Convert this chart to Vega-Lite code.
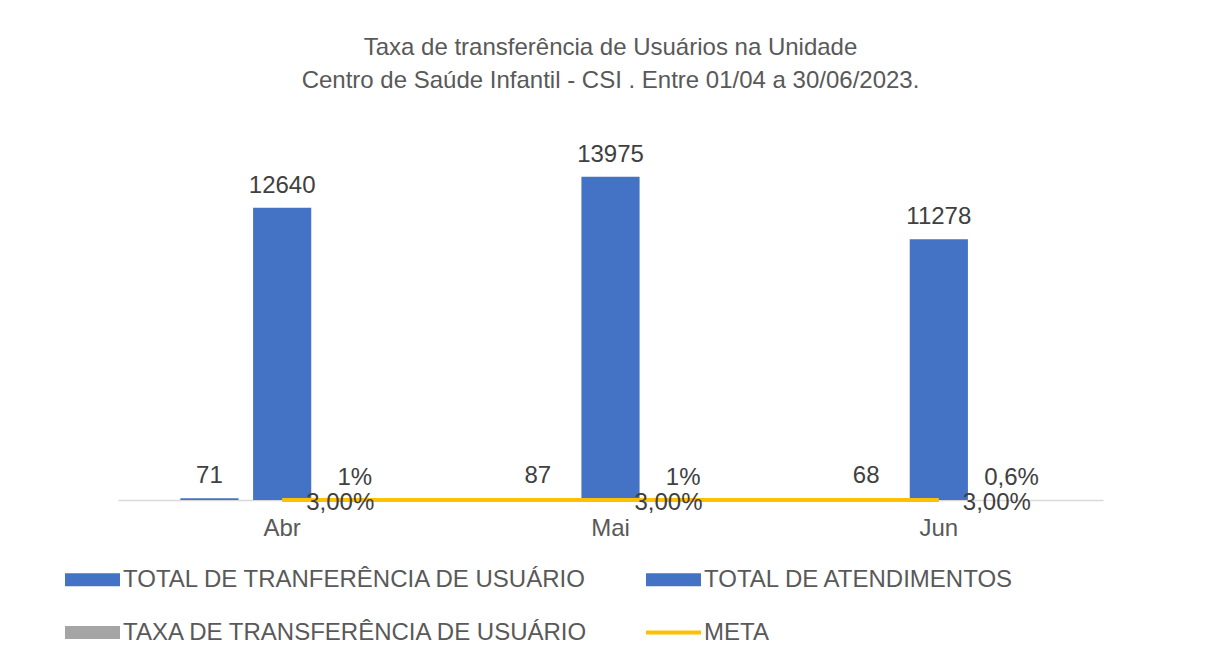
{
  "$schema": "https://vega.github.io/schema/vega-lite/v6.json",
  "autosize": {"type": "none"},
  "width": 985,
  "height": 370,
  "padding": {"left": 118, "top": 130, "right": 102, "bottom": 168},
  "background": "white",
  "title": {
    "text": ["Taxa de transferência de Usuários na Unidade", "Centro de Saúde Infantil - CSI . Entre 01/04 a 30/06/2023."],
    "font": "Liberation Sans",
    "fontSize": 24,
    "fontWeight": "normal",
    "color": "#595959",
    "lineHeight": 33,
    "offset": 37,
    "anchor": "middle"
  },
  "config": {
    "view": {"stroke": null},
    "font": "Liberation Sans"
  },
  "data": {
    "values": [
      {"mes": "Abr", "serie": "TOTAL DE TRANFERÊNCIA DE USUÁRIO", "valor": 71, "rotulo": "71"},
      {"mes": "Abr", "serie": "TOTAL DE ATENDIMENTOS", "valor": 12640, "rotulo": "12640"},
      {"mes": "Abr", "serie": "TAXA DE TRANSFERÊNCIA DE USUÁRIO", "valor": 0.01, "rotulo": "1%"},
      {"mes": "Abr", "serie": "META", "valor": 0.03, "rotulo": "3,00%"},
      {"mes": "Mai", "serie": "TOTAL DE TRANFERÊNCIA DE USUÁRIO", "valor": 87, "rotulo": "87"},
      {"mes": "Mai", "serie": "TOTAL DE ATENDIMENTOS", "valor": 13975, "rotulo": "13975"},
      {"mes": "Mai", "serie": "TAXA DE TRANSFERÊNCIA DE USUÁRIO", "valor": 0.01, "rotulo": "1%"},
      {"mes": "Mai", "serie": "META", "valor": 0.03, "rotulo": "3,00%"},
      {"mes": "Jun", "serie": "TOTAL DE TRANFERÊNCIA DE USUÁRIO", "valor": 68, "rotulo": "68"},
      {"mes": "Jun", "serie": "TOTAL DE ATENDIMENTOS", "valor": 11278, "rotulo": "11278"},
      {"mes": "Jun", "serie": "TAXA DE TRANSFERÊNCIA DE USUÁRIO", "valor": 0.006, "rotulo": "0,6%"},
      {"mes": "Jun", "serie": "META", "valor": 0.03, "rotulo": "3,00%"}
    ]
  },
  "encoding": {
    "x": {
      "field": "mes",
      "type": "nominal",
      "sort": ["Abr", "Mai", "Jun"],
      "scale": {"paddingInner": 0.38, "paddingOuter": 0.19},
      "axis": {
        "title": null,
        "ticks": false,
        "domainColor": "#D9D9D9",
        "domainWidth": 1.5,
        "labelAngle": 0,
        "labelFont": "Liberation Sans",
        "labelFontSize": 24,
        "labelColor": "#595959",
        "labelPadding": 16,
        "grid": false
      }
    },
    "y": {
      "field": "valor",
      "type": "quantitative",
      "scale": {"domain": [0, 16000], "nice": false},
      "axis": null
    }
  },
  "layer": [
    {
      "transform": [{"filter": "datum.serie !== 'META'"}],
      "mark": {"type": "bar"},
      "encoding": {
        "xOffset": {
          "field": "serie",
          "type": "nominal",
          "sort": ["TOTAL DE TRANFERÊNCIA DE USUÁRIO", "TOTAL DE ATENDIMENTOS", "TAXA DE TRANSFERÊNCIA DE USUÁRIO"],
          "scale": {"paddingInner": 0.2, "paddingOuter": 0}
        },
        "color": {
          "field": "serie",
          "type": "nominal",
          "scale": {
            "domain": ["TOTAL DE TRANFERÊNCIA DE USUÁRIO", "TOTAL DE ATENDIMENTOS", "TAXA DE TRANSFERÊNCIA DE USUÁRIO", "META"],
            "range": ["#4472C4", "#4472C4", "#A5A5A5", "#FFC000"]
          },
          "legend": {
            "title": null,
            "orient": "none",
            "direction": "horizontal",
            "legendX": -53,
            "legendY": 422,
            "columns": 2,
            "columnPadding": 56,
            "rowPadding": 13,
            "symbolSize": 3025,
            "labelFont": "Liberation Sans",
            "labelFontSize": 24,
            "labelColor": "#595959",
            "labelOffset": 3,
            "labelLimit": 0,
            "encode": {
              "symbols": {
                "update": {
                  "shape": {"signal": "datum.value === 'META' ? 'M-1,-0.07L1,-0.07L1,0.07L-1,0.07Z' : 'M-1,-0.235L1,-0.235L1,0.235L-1,0.235Z'"},
                  "fill": {"scale": "color", "field": "value"},
                  "stroke": {"value": "transparent"},
                  "strokeWidth": {"value": 0},
                  "opacity": {"value": 1}
                }
              }
            }
          }
        }
      }
    },
    {
      "transform": [{"filter": "datum.serie !== 'META'"}],
      "mark": {"type": "text", "baseline": "alphabetic", "dy": -15, "font": "Liberation Sans", "fontSize": 24, "color": "#404040"},
      "encoding": {
        "xOffset": {
          "field": "serie",
          "type": "nominal",
          "sort": ["TOTAL DE TRANFERÊNCIA DE USUÁRIO", "TOTAL DE ATENDIMENTOS", "TAXA DE TRANSFERÊNCIA DE USUÁRIO"],
          "scale": {"paddingInner": 0.2, "paddingOuter": 0}
        },
        "text": {"field": "rotulo"}
      }
    },
    {
      "transform": [{"filter": "datum.serie === 'META'"}],
      "mark": {"type": "line", "strokeWidth": 4},
      "encoding": {
        "color": {"field": "serie", "type": "nominal"}
      }
    },
    {
      "transform": [{"filter": "datum.serie === 'META'"}],
      "mark": {"type": "text", "align": "left", "baseline": "alphabetic", "dx": 24, "dy": 10, "font": "Liberation Sans", "fontSize": 24, "color": "#404040"},
      "encoding": {
        "text": {"field": "rotulo"}
      }
    }
  ]
}
